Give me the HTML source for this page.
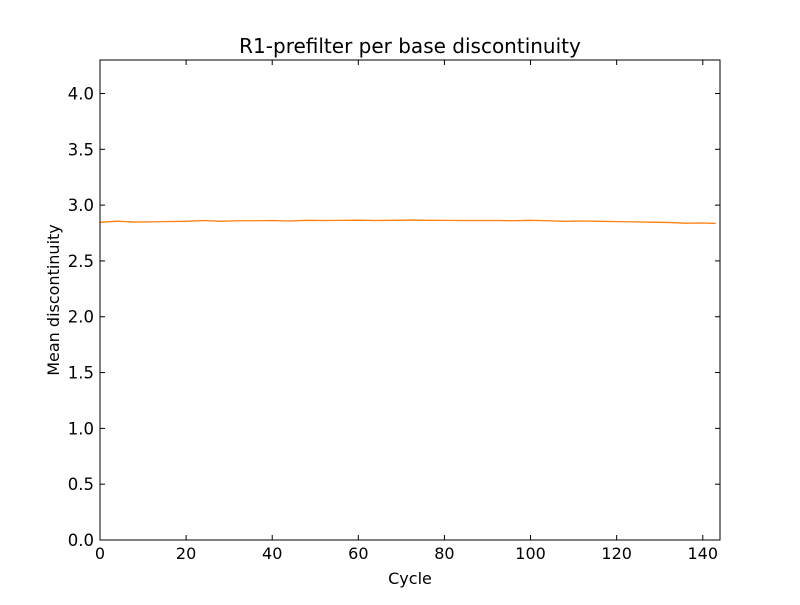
<!DOCTYPE html>
<html><head><meta charset="utf-8"><style>
body{margin:0;background:#fff;}
text{font-family:"DejaVu Sans","Liberation Sans",sans-serif;}
</style></head><body>
<svg id="chart" width="800" height="600" xmlns="http://www.w3.org/2000/svg">
<rect width="800" height="600" fill="#fff"/>
<text x="410" y="53" font-size="20" text-anchor="middle">R1-prefilter per base discontinuity</text>
<g id="axes"></g>
<rect x="100" y="60" width="620" height="480" fill="none" stroke="#000" stroke-width="1"/>
<text x="410" y="584" font-size="16" text-anchor="middle">Cycle</text>
<text x="59" y="300" font-size="16" text-anchor="middle" transform="rotate(-90 59 300)">Mean discontinuity</text>
</svg>
<script>
const cycles=[0,4,8,12,16,20,24,28,32,36,40,44,48,52,56,60,64,68,72,76,80,84,88,92,96,100,104,108,112,116,120,124,128,132,136,140,143];
const values=[2.846,2.856,2.848,2.85,2.853,2.855,2.862,2.855,2.86,2.86,2.862,2.858,2.864,2.862,2.863,2.865,2.862,2.864,2.866,2.864,2.863,2.862,2.862,2.862,2.86,2.864,2.86,2.855,2.858,2.855,2.852,2.85,2.847,2.845,2.838,2.84,2.836];
const xTicks=[0,20,40,60,80,100,120,140];
const yTicks=[0.0,0.5,1.0,1.5,2.0,2.5,3.0,3.5,4.0];
const X0=100,X1=720,Y0=540,Y1=60,XMAX=144,YMAX=4.3;
const sx=v=>X0+(v/XMAX)*(X1-X0);
const sy=v=>Y0-(v/YMAX)*(Y0-Y1);
const NS="http://www.w3.org/2000/svg";
const g=document.getElementById('axes');
function mk(t,a){const e=document.createElementNS(NS,t);for(const k in a)e.setAttribute(k,a[k]);g.appendChild(e);return e;}
xTicks.forEach(t=>{const x=sx(t);
const a=mk('line',{x1:x,x2:x,y1:540,y2:535,stroke:'#000'});


const b=mk('line',{x1:x,x2:x,y1:60,y2:65,stroke:'#000'});


const l=mk('text',{x:x,y:559,'font-size':16,'text-anchor':'middle'});l.textContent=t;

});
yTicks.forEach(t=>{const y=sy(t);
const a=mk('line',{x1:100,x2:105,y1:y,y2:y,stroke:'#000'});


const b=mk('line',{x1:715,x2:720,y1:y,y2:y,stroke:'#000'});


const l=mk('text',{x:94,y:y+6,'font-size':16.5,'text-anchor':'end'});l.textContent=t.toFixed(1);

});
const p=mk('polyline',{points:cycles.map((c,i)=>sx(c)+','+sy(values[i])).join(' '),fill:'none',stroke:'#ff7f0e','stroke-width':1.3});


</script>
</body></html>
